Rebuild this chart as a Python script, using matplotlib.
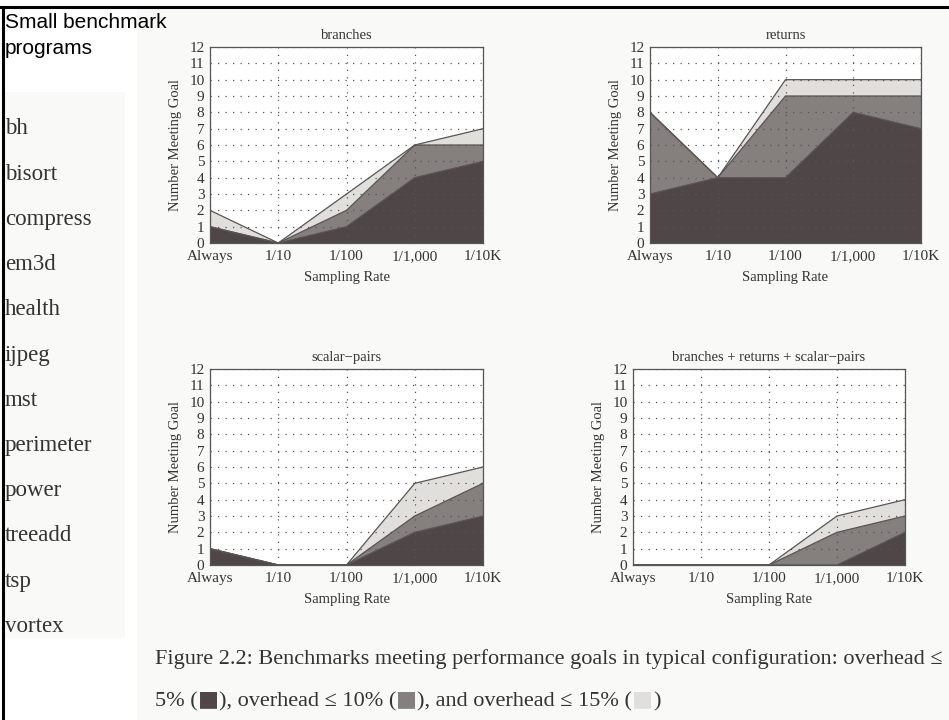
import matplotlib
matplotlib.use("Agg")
import matplotlib.pyplot as plt
from matplotlib.patches import Rectangle
from matplotlib.lines import Line2D

rates = ["Always", "1/10", "1/100", "1/1,000", "1/10K"]
y_ticks = list(range(0, 13))

branches_5 = [1, 0, 1, 4, 5]
branches_10 = [1, 0, 2, 6, 6]
branches_15 = [2, 0, 3, 6, 7]

returns_5 = [3, 4, 4, 8, 7]
returns_10 = [8, 4, 9, 9, 9]
returns_15 = [8, 4, 10, 10, 10]

scalar_5 = [1, 0, 0, 2, 3]
scalar_10 = [1, 0, 0, 3, 5]
scalar_15 = [1, 0, 0, 5, 6]

combined_5 = [0, 0, 0, 0, 2]
combined_10 = [0, 0, 0, 2, 3]
combined_15 = [0, 0, 0, 3, 4]

programs = ["bh", "bisort", "compress", "em3d", "health", "ijpeg", "mst",
            "perimeter", "power", "treeadd", "tsp", "vortex"]

c5, c10, c15 = "#4f4747", "#85807e", "#e1dfdb"
edge = "#5a5454"
txtc = "#333333"
serif = "Liberation Serif"

W, H = 949, 720
fig = plt.figure(figsize=(W / 100, H / 100), dpi=100, facecolor="white")


def fx(x):
    return x / W


def fy(y):
    return 1 - y / H


# backgrounds
fig.patches.append(Rectangle((fx(137), 0), fx(W - 137), fy(8), transform=fig.transFigure,
                             facecolor="#f9f9f8", edgecolor="none", zorder=-10))
fig.patches.append(Rectangle((fx(3), fy(638)), fx(122), (638 - 92) / H, transform=fig.transFigure,
                             facecolor="#f9f9f8", edgecolor="none", zorder=-10))
# borders
fig.lines.append(Line2D([0, 1], [fy(7), fy(7)], transform=fig.transFigure, color="black", lw=2.2))
fig.lines.append(Line2D([fx(2.5), fx(2.5)], [0, fy(7)], transform=fig.transFigure, color="black", lw=2.2))

panels = [
    ("branches", branches_5, branches_10, branches_15, (210, 483, 47, 243)),
    ("returns", returns_5, returns_10, returns_15, (650, 921, 47, 243)),
    ("scalar\u2212pairs", scalar_5, scalar_10, scalar_15, (210, 483, 369, 565)),
    ("branches + returns + scalar\u2212pairs", combined_5, combined_10, combined_15, (633, 905, 369, 565)),
]

x = list(range(len(rates)))
first_ax = None
for title, s5, s10, s15, (l, r, t, b) in panels:
    ax = fig.add_axes([fx(l), fy(b), fx(r - l), (b - t) / H])
    if first_ax is None:
        first_ax = ax
    ax.set_facecolor("white")
    for s, c in ((s15, c15), (s10, c10), (s5, c5)):
        ax.fill_between(x, 0, s, facecolor=c, edgecolor="none", zorder=2)
        ax.plot(x, s, color=edge, lw=0.9, zorder=3)
    ax.set_xlim(0, len(rates) - 1)
    ax.set_ylim(0, 12)
    ax.set_xticks(x)
    ax.set_xticklabels(rates, family=serif, fontsize=11, color=txtc)
    ax.set_yticks(y_ticks)
    ax.set_yticklabels([str(v) for v in y_ticks], family=serif, fontsize=11, color=txtc)
    ax.tick_params(length=0)
    ax.tick_params(axis="x", pad=5)
    ax.tick_params(axis="y", pad=4)
    ax.grid(True, color="#555555", linestyle=(0, (1, 5)), lw=0.9, zorder=4)
    ax.set_axisbelow(False)
    for sp in ax.spines.values():
        sp.set_color("#555555")
        sp.set_linewidth(0.9)
        sp.set_zorder(5)
    ax.set_title(title, family=serif, fontsize=10.5, color=txtc, pad=6)
    ax.set_xlabel("Sampling Rate", family=serif, fontsize=10.5, color=txtc, labelpad=6)
    ax.set_ylabel("Number Meeting Goal", family=serif, fontsize=10.5, color=txtc, labelpad=5)

# left list
fig.text(fx(5), fy(22), "Small benchmark", family="Liberation Sans", fontsize=15,
         va="center", ha="left", color="black")
fig.text(fx(5), fy(49), "programs", family="Liberation Sans", fontsize=15,
         va="center", ha="left", color="black")
for i, p in enumerate(programs):
    fig.text(fx(5), fy(129 + i * 45.2), p, family=serif, fontsize=16.5,
             va="center", ha="left", color=txtc)

# caption
fig.text(fx(155), fy(659),
         "Figure 2.2: Benchmarks meeting performance goals in typical configuration: overhead \u2264",
         family=serif, fontsize=16, va="center", ha="left", color=txtc)

parts = [("5% (", txtc, serif, 0), ("\u25A0", c5, "DejaVu Sans", 2),
         ("), overhead \u2264 10% (", txtc, serif, -2), ("\u25A0", c10, "DejaVu Sans", 2),
         ("), and overhead \u2264 15% (", txtc, serif, -2), ("\u25A0", c15, "DejaVu Sans", 2),
         (")", txtc, serif, -2)]
anchor = None
for txt, col, fam, dy in parts:
    if anchor is None:
        anchor = fig.text(fx(155), fy(702), txt, family=fam, fontsize=16, va="center",
                          ha="left", color=col)
    else:
        anchor = first_ax.annotate(txt, xy=(1, 0.5), xycoords=anchor,
                                   xytext=(0, dy), textcoords="offset points",
                                   va="center", ha="left", family=fam, fontsize=16,
                                   color=col, annotation_clip=False)

fig.savefig("out.png", dpi=100, facecolor=fig.get_facecolor())
